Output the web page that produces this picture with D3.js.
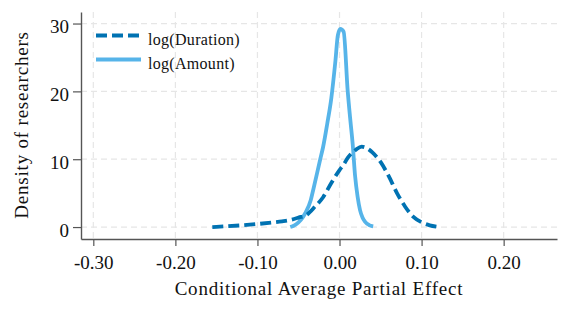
<!DOCTYPE html>
<meta charset="utf-8">
<script src="https://d3js.org/d3.v7.min.js"></script>
<style>
  body { margin: 0; background: #fff; }
  text { font-family: "Liberation Serif", "Times New Roman", serif; fill: #111; }
</style>
<div id="my_dataviz"></div>
<script>

// density curves
var durationX = [-0.155, -0.14, -0.12, -0.10, -0.08, -0.07, -0.06, -0.05, -0.04, -0.03, -0.02, -0.01, 0.00, 0.005, 0.01, 0.02, 0.027, 0.035, 0.04, 0.05, 0.06, 0.07, 0.08, 0.09, 0.10, 0.11, 0.118];
var durationY = [0.0, 0.1, 0.25, 0.45, 0.7, 0.85, 1.05, 1.4, 1.8, 3.0, 4.4, 6.5, 8.4, 9.2, 10.2, 11.4, 11.85, 11.5, 11.0, 9.6, 7.5, 5.0, 3.0, 1.5, 0.7, 0.25, 0.05];

var amountX = [-0.060, -0.055, -0.050, -0.045, -0.042, -0.035, -0.032, -0.0235, -0.020, -0.015, -0.010, -0.005, -0.002, 0.001, 0.005, 0.010, 0.013, 0.016, 0.019, 0.022, 0.025, 0.028, 0.031, 0.036, 0.041];
var amountY = [0.0, 0.25, 0.7, 1.4, 2.0, 4.0, 5.5, 10.0, 11.8, 15.2, 19.0, 24.5, 28.3, 29.2, 28.8, 20.0, 16.0, 12.3, 7.5, 4.5, 2.5, 1.4, 0.8, 0.3, 0.1];

var xTicks = [-0.30, -0.20, -0.10, 0.00, 0.10, 0.20];
var yTicks = [0, 10, 20, 30];
var seriesNames = ["log(Duration)", "log(Amount)"];

var W = 568, H = 320;
var margin = {top: 12, right: 11, bottom: 81, left: 81},
    width = W - margin.left - margin.right,
    height = H - margin.top - margin.bottom;

var svg = d3.select("#my_dataviz")
  .append("svg")
    .attr("width", W)
    .attr("height", H)
  .append("g")
    .attr("transform", "translate(" + margin.left + "," + margin.top + ")");

var x = d3.scaleLinear().domain([-0.315, 0.265]).range([0, width]);
var y = d3.scaleLinear().domain([-1.76, 31.7]).range([height, 0]);

// grid
svg.append("g").selectAll("line.gx")
  .data(xTicks).enter().append("line")
    .attr("x1", d => x(d)).attr("x2", d => x(d))
    .attr("y1", 0).attr("y2", height)
    .attr("stroke", "#e6e6e6").attr("stroke-width", 1.2)
    .attr("stroke-dasharray", "6,4");
svg.append("g").selectAll("line.gy")
  .data(yTicks).enter().append("line")
    .attr("x1", 0).attr("x2", width)
    .attr("y1", d => y(d)).attr("y2", d => y(d))
    .attr("stroke", "#e6e6e6").attr("stroke-width", 1.2)
    .attr("stroke-dasharray", "6,4");

// axes (plain hyphen for minus, like the original)
var fmt = function(d) { return d3.format(".2f")(d).replace("\u2212", "-"); };
var xAxis = svg.append("g")
  .attr("transform", "translate(0," + height + ")")
  .call(d3.axisBottom(x).tickValues(xTicks).tickFormat(fmt).tickSize(7).tickPadding(9.5).tickSizeOuter(0));
var yAxis = svg.append("g")
  .call(d3.axisLeft(y).tickValues(yTicks).tickSize(8).tickPadding(4).tickSizeOuter(0));

[xAxis, yAxis].forEach(function(a) {
  a.select(".domain").attr("stroke", "#555").attr("stroke-width", 1.4);
  a.selectAll(".tick line").attr("stroke", "#555").attr("stroke-width", 1.2);
  a.selectAll(".tick text").style("font-size", "19px").style("font-family", "Liberation Serif").attr("fill", "#111");
});
yAxis.selectAll(".tick text").attr("y", 3);

// curves
var line = d3.line()
  .x(d => x(d[0]))
  .y(d => y(d[1]))
  .curve(d3.curveMonotoneX);

svg.append("path")
  .datum(d3.zip(amountX, amountY))
  .attr("fill", "none")
  .attr("stroke", "#56B4E9")
  .attr("stroke-width", 3.8)
  .attr("d", line);

svg.append("path")
  .datum(d3.zip(durationX, durationY))
  .attr("fill", "none")
  .attr("stroke", "#0072B2")
  .attr("stroke-width", 3.8)
  .attr("stroke-dasharray", "11,5")
  .attr("d", line);

// legend
var leg = svg.append("g").attr("transform", "translate(15,23.5)");
leg.append("line").attr("x1", 0).attr("x2", 45).attr("y1", 0).attr("y2", 0)
  .attr("stroke", "#0072B2").attr("stroke-width", 3.8).attr("stroke-dasharray", "11,5");
leg.append("line").attr("x1", 0).attr("x2", 45).attr("y1", 24).attr("y2", 24)
  .attr("stroke", "#56B4E9").attr("stroke-width", 3.8);
leg.selectAll("text.l").data(seriesNames).enter().append("text")
  .attr("x", 52).attr("y", (d, i) => i * 24 + 4)
  .attr("dy", "0.32em")
  .style("font-size", "16px")
  .style("letter-spacing", "0.3px")
  .text(d => d);

// labels
svg.append("text")
  .attr("x", 319 - margin.left).attr("y", 288 - margin.top)
  .attr("dy", "0.35em")
  .style("text-anchor", "middle")
  .style("font-size", "19px")
  .style("letter-spacing", "0.8px")
  .text("Conditional Average Partial Effect");

svg.append("text")
  .attr("transform", "rotate(-90)")
  .attr("x", -(125 - margin.top))
  .attr("y", 21 - margin.left)
  .attr("dy", "0.35em")
  .style("text-anchor", "middle")
  .style("font-size", "19px")
  .style("letter-spacing", "0.8px")
  .text("Density of researchers");

</script>
